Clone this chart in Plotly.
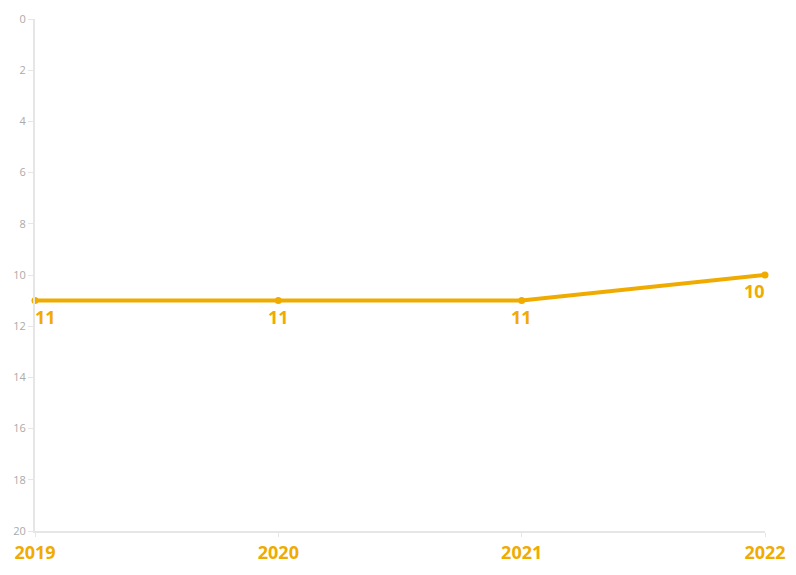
import plotly.graph_objects as go

years = [2019, 2020, 2021, 2022]
values = [11, 11, 11, 10]
labels = ["11", "11", "11", "10"]
label_anchor = ["left", "center", "center", "right"]
label_xshift = [-2, 0, 0, 2]

color = "#F0AB00"
font_bold = dict(family="Open Sans", size=18, color=color, weight="bold")

fig = go.Figure()
fig.add_trace(go.Scatter(
    x=years, y=values, mode="lines+markers",
    line=dict(color=color, width=4),
    marker=dict(color=color, size=7),
    cliponaxis=False, hoverinfo="skip",
))

for xv, yv, t, a, xs in zip(years, values, labels, label_anchor, label_xshift):
    fig.add_annotation(
        x=xv, y=yv, text=t, showarrow=False,
        xanchor=a, yanchor="top", yshift=-2, xshift=xs,
        font=font_bold,
    )

fig.update_layout(
    width=788, height=567,
    margin=dict(l=27, r=31, t=11, b=44, autoexpand=False),
    paper_bgcolor="white", plot_bgcolor="white",
    showlegend=False,
    xaxis=dict(
        range=[2019, 2022], tickvals=years, ticktext=[str(y) for y in years],
        automargin=False,
        showgrid=False, zeroline=False, showline=True, linecolor="#e6e6e6", linewidth=2,
        ticks="outside", ticklen=4, tickcolor="#e6e6e6",
        tickfont=font_bold,
    ),
    yaxis=dict(
        range=[20, 0], dtick=2, tick0=0, automargin=False,
        showgrid=False, zeroline=False, showline=True, linecolor="#e6e6e6", linewidth=2,
        ticks="outside", ticklen=5, tickcolor="#e6e6e6",
        tickfont=dict(family="Open Sans", size=11, color="#aaaaaa"),
    ),
)

fig.write_html("out.html")
